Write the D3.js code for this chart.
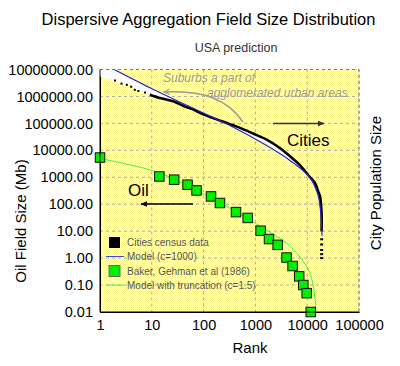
<!DOCTYPE html>
<html>
<head>
<meta charset="utf-8">
<script src="https://cdn.jsdelivr.net/npm/d3@7"></script>
<style>
  body { margin: 0; background: #fff; }
  svg text { font-family: "Liberation Sans", Arial, sans-serif; }
</style>
</head>
<body>
<div id="chart"></div>
<script>
// Tick values
const rankTicks = [1, 10, 100, 1000, 10000, 100000];
const sizeTicks = [0.01, 0.1, 1, 10, 100, 1000, 10000, 100000, 1000000, 10000000];

// Oil fields: Baker, Gehman et al (1986) [rank, size Mb]
const oilRank = [1, 14, 27, 49, 73, 139, 207, 422, 710, 1260, 1830, 2690, 3990, 5220, 7010, 8410, 9780, 11700];
const oilSize = [5400, 1070, 815, 530, 325, 195, 111, 51, 31, 10.4, 5.1, 3.1, 1.05, 0.51, 0.21, 0.10, 0.05, 0.01];

// Model with truncation (c=1.5)
const oilModelRank = [1, 3, 10, 30, 85, 200, 700, 1500, 4000, 7000, 10000, 11300, 13000, 14200, 14600];
const oilModelSize = [5000, 3200, 1800, 800, 280, 120, 30, 12, 3.6, 1.2, 0.45, 0.28, 0.1, 0.03, 0.012];

// Cities census data: sparse top ranks, then the dense curve, then the dotted tail
const cityTopRank = [1.95, 2.6, 3.3, 4, 4.7, 5.5, 7.4];
const cityTopPop = [3.9e6, 3.0e6, 2.7e6, 2.3e6, 1.76e6, 1.6e6, 1.4e6];
const cityRank = [9.2, 15, 26, 44, 63, 85, 150, 323, 505, 900, 1650, 3000, 4650, 7000, 11000, 14100, 16300, 17700, 18500, 18950, 19000];
const cityPop = [1.15e6, 8.5e5, 6.6e5, 4.2e5, 3.3e5, 2.45e5, 1.6e5, 9.4e4, 6.8e4, 4.2e4, 2.5e4, 1.2e4, 6000, 3000, 1070, 615, 300, 195, 90, 47, 9.8];
const cityTailRank = [19000, 19000, 19000, 19000, 19000];
const cityTailPop = [5, 3.2, 2, 1.4, 1];

// Model (c=1000)
const cityModelRank = [1.68, 9.2, 44, 323, 1650, 4650, 11300, 16100, 18500, 19300];
const cityModelPop = [1.12e7, 2.1e6, 5.0e5, 8.3e4, 1.5e4, 4200, 980, 225, 40, 6.7];

const legendLabels = ['Cities census data', 'Model (c=1000)', 'Baker, Gehman et al (1986)', 'Model with truncation (c=1.5)'];

const W = 400;
const H = 366;
const margin = { left: 100, right: 41, top: 69.5, bottom: 54 };

const svg = d3.select('#chart').append('svg')
  .attr('width', W)
  .attr('height', H);

const x = d3.scaleLog().domain([1, 100000]).range([margin.left, W - margin.right]);
const y = d3.scaleLog().domain([0.01, 10000000]).range([H - margin.bottom, margin.top]);

const defs = svg.append('defs');
// pale yellow checkered background
const pat = defs.append('pattern')
  .attr('id', 'hatch')
  .attr('width', 2)
  .attr('height', 2)
  .attr('patternUnits', 'userSpaceOnUse');
pat.append('rect').attr('width', 2).attr('height', 2).attr('fill', '#ffffe6');
pat.append('rect').attr('width', 1).attr('height', 1).attr('fill', '#fbf690');
pat.append('rect').attr('x', 1).attr('y', 1).attr('width', 1).attr('height', 1).attr('fill', '#fbf690');

defs.append('clipPath').attr('id', 'clip')
  .append('rect')
  .attr('x', x(1)).attr('y', y(1e7))
  .attr('width', x(1e5) - x(1)).attr('height', y(0.01) - y(1e7));

const marker = (id, color, open) => {
  const m = defs.append('marker')
    .attr('id', id)
    .attr('viewBox', '0 0 10 10')
    .attr('refX', 9).attr('refY', 5)
    .attr('markerWidth', 7).attr('markerHeight', 7)
    .attr('markerUnits', 'userSpaceOnUse')
    .attr('orient', 'auto');
  if (open) {
    m.append('path').attr('d', 'M1,1L9,5L1,9').attr('fill', 'none').attr('stroke', color).attr('stroke-width', 1.5);
  } else {
    m.append('path').attr('d', 'M0,1L10,5L0,9Z').attr('fill', color);
  }
};
marker('arrDark', '#333', false);
marker('arrBlack', '#000', false);
marker('arrGray', '#999', true);

svg.append('rect')
  .attr('x', x(1)).attr('y', y(1e7))
  .attr('width', x(1e5) - x(1)).attr('height', y(0.01) - y(1e7))
  .attr('fill', 'url(#hatch)');

// grid
const grid = svg.append('g').attr('stroke', '#aaa').attr('stroke-dasharray', '3,3');
grid.selectAll('.gx').data(rankTicks.slice(1)).enter().append('line')
  .attr('x1', (d) => x(d)).attr('x2', (d) => x(d))
  .attr('y1', y(1e7)).attr('y2', y(0.01));
grid.selectAll('.gy').data(sizeTicks.slice(1)).enter().append('line')
  .attr('x1', x(1)).attr('x2', x(1e5))
  .attr('y1', (d) => y(d)).attr('y2', (d) => y(d));

// axes
const yAxis = svg.append('g')
  .attr('transform', `translate(${x(1)},0)`)
  .call(d3.axisLeft(y).tickValues(sizeTicks).tickFormat((d) => d.toFixed(2)).tickSize(0).tickPadding(7));
yAxis.selectAll('text').attr('font-size', 14.5).attr('fill', '#000');
yAxis.select('.domain').attr('stroke', '#000');

const xAxis = svg.append('g')
  .attr('transform', `translate(0,${y(0.01)})`)
  .call(d3.axisBottom(x).tickValues(rankTicks).tickFormat(d3.format('d')).tickSize(0).tickPadding(8));
xAxis.selectAll('text').attr('font-size', 14.5).attr('fill', '#000');
xAxis.select('.domain').attr('stroke', '#000');

const plot = svg.append('g').attr('clip-path', 'url(#clip)');

const cityModel = d3.zip(cityModelRank, cityModelPop);
const cityLine = d3.zip(cityRank, cityPop);
const topDots = d3.zip(cityTopRank, cityTopPop);

const lineC = d3.line().x((d) => x(d[0])).y((d) => y(d[1])).curve(d3.curveCatmullRom);

// light fill between model and census data
const upper = cityModel.slice(0, 7);
const lower = topDots.concat(cityLine.slice(0, 15));
plot.append('path')
  .attr('d', `M${x(1)},${y(1e7) - 1}L${upper.map((d) => `${x(d[0])},${y(d[1])}`).join('L')}`
    + `L${lower.slice().reverse().map((d) => `${x(d[0])},${y(d[1])}`).join('L')}L${x(1)},${y(cityTopPop[0]) - 4}Z`)
  .attr('fill', '#fbfbff');

// census data
plot.append('path')
  .attr('d', lineC(cityLine))
  .attr('fill', 'none').attr('stroke', '#000').attr('stroke-width', 2.6);
plot.selectAll('.top').data(topDots).enter().append('rect')
  .attr('x', (d) => x(d[0]) - 1).attr('y', (d) => y(d[1]) - 1)
  .attr('width', 2).attr('height', 2).attr('fill', '#000');
plot.selectAll('.tail').data(d3.zip(cityTailRank, cityTailPop)).enter().append('rect')
  .attr('x', (d) => x(d[0]) - 1.5).attr('y', (d) => y(d[1]) - 1)
  .attr('width', 3).attr('height', 2).attr('fill', '#000');

// city model
plot.append('path')
  .attr('d', lineC(cityModel))
  .attr('fill', 'none').attr('stroke', '#2222dd').attr('stroke-width', 1.2);

// oil model
plot.append('path')
  .attr('d', lineC(d3.zip(oilModelRank, oilModelSize)))
  .attr('fill', 'none').attr('stroke', '#44ee44').attr('stroke-width', 1);

// oil fields
const sq = 9.5;
svg.selectAll('.oil').data(d3.zip(oilRank, oilSize)).enter().append('rect')
  .attr('x', (d) => x(d[0]) - sq / 2).attr('y', (d) => y(d[1]) - sq / 2)
  .attr('width', sq).attr('height', sq)
  .attr('fill', '#00ee00').attr('stroke', '#111').attr('stroke-width', 1);

// borders
svg.append('path')
  .attr('d', `M${x(1)},${y(1e7)}H${x(1e5)}V${y(0.01)}`)
  .attr('fill', 'none').attr('stroke', '#777').attr('stroke-dasharray', '3,3');
svg.append('path')
  .attr('d', `M${x(1)},${y(1e7)}V${y(0.01)}H${x(1e5)}`)
  .attr('fill', 'none').attr('stroke', '#000');

// annotations
svg.append('text').attr('x', 163).attr('y', 82).attr('font-size', 12).attr('font-style', 'italic')
  .attr('fill', '#999').text('Suburbs a part of');
svg.append('text').attr('x', 207).attr('y', 96.5).attr('font-size', 12).attr('font-style', 'italic')
  .attr('fill', '#999').text('agglomerated urban areas');
svg.append('path')
  .attr('d', 'M243,122C228,100 205,90 164,92')
  .attr('fill', 'none').attr('stroke', '#999').attr('stroke-width', 1.5)
  .attr('marker-end', 'url(#arrGray)');

svg.append('line').attr('x1', 273).attr('x2', 324).attr('y1', 123.5).attr('y2', 123.5)
  .attr('stroke', '#333').attr('stroke-width', 1.5).attr('marker-end', 'url(#arrDark)');
svg.append('text').attr('x', 287).attr('y', 145.5).attr('font-size', 17).text('Cities');

svg.append('text').attr('x', 128).attr('y', 195.5).attr('font-size', 17).text('Oil');
svg.append('line').attr('x1', 193).attr('x2', 141).attr('y1', 204).attr('y2', 204)
  .attr('stroke', '#000').attr('stroke-width', 1.5).attr('marker-end', 'url(#arrBlack)');

// legend
const lg = svg.append('g').attr('font-size', 10).attr('fill', '#555');
const ly = [242.5, 256.5, 271, 285];
lg.append('rect').attr('x', 109).attr('y', ly[0] - 5.5).attr('width', 11).attr('height', 11).attr('fill', '#000');
lg.append('line').attr('x1', 106).attr('x2', 124).attr('y1', ly[1]).attr('y2', ly[1]).attr('stroke', '#4444dd');
lg.append('rect').attr('x', 109).attr('y', ly[2] - 5.5).attr('width', 11).attr('height', 11)
  .attr('fill', '#00ee00').attr('stroke', '#666');
lg.append('line').attr('x1', 106).attr('x2', 124).attr('y1', ly[3]).attr('y2', ly[3]).attr('stroke', '#55ee55');
lg.selectAll('.lt').data(legendLabels).enter().append('text')
  .attr('x', 127).attr('y', (d, i) => ly[i] + 3.5).text((d) => d);

// titles
svg.append('text').attr('x', 208.5).attr('y', 25).attr('text-anchor', 'middle').attr('font-size', 16.5)
  .text('Dispersive Aggregation Field Size Distribution');
svg.append('text').attr('x', 236).attr('y', 52).attr('text-anchor', 'middle').attr('font-size', 12.5)
  .attr('fill', '#333').text('USA prediction');
svg.append('text').attr('x', 250).attr('y', 353).attr('text-anchor', 'middle').attr('font-size', 15)
  .text('Rank');
svg.append('text').attr('transform', 'translate(26,221) rotate(-90)').attr('text-anchor', 'middle')
  .attr('font-size', 15).text('Oil Field Size (Mb)');
svg.append('text').attr('transform', 'translate(381,183) rotate(-90)').attr('text-anchor', 'middle')
  .attr('font-size', 15).text('City Population Size');
</script>
</body>
</html>
